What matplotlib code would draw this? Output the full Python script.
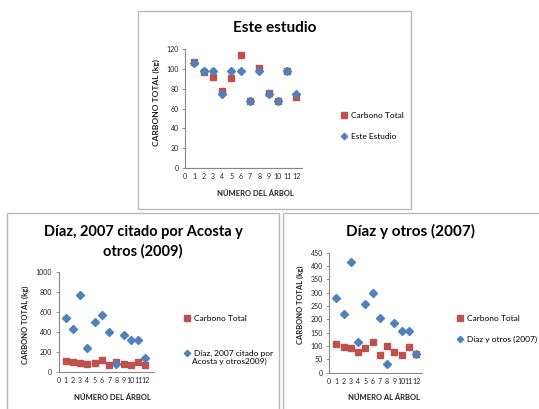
import matplotlib.pyplot as plt
from matplotlib.patches import Rectangle

plt.rcParams['font.family'] = ['Lato', 'DejaVu Sans']

# tree number and carbon values
arbol = [1, 2, 3, 4, 5, 6, 7, 8, 9, 10, 11, 12]
carbono_total = [107, 97, 92, 78, 91, 114, 68, 101, 76, 68, 98, 72]
este_estudio = [106, 98, 98, 75, 98, 98, 68, 98, 75, 68, 98, 75]
diaz_acosta = [533, 427, 767, 233, 500, 567, 393, 73, 367, 317, 317, 140]
diaz_otros = [279, 219, 414, 116, 258, 298, 204, 33, 185, 156, 156, 69]
x_ticks = list(range(13))

RED = '#C0504D'
BLUE = '#4F81BD'
W, H = 539, 409

fig = plt.figure(figsize=(W / 100, H / 100), dpi=100)


def px_axes(left, right, top, bottom):
    return fig.add_axes([left / W, 1 - bottom / H, (right - left) / W, (bottom - top) / H])


def box(x0, y0, x1, y1):
    fig.add_artist(Rectangle((x0 / W, 1 - y1 / H), (x1 - x0) / W, (y1 - y0) / H,
                             transform=fig.transFigure, fill=False,
                             edgecolor='#b8b8b8', lw=1))


def ftext(x, y, s, **kw):
    fig.text(x / W, 1 - y / H, s, **kw)


def style(ax, xmax, ymax, ystep):
    ax.set_xlim(0, xmax)
    ax.set_ylim(0, ymax)
    ax.set_xticks(x_ticks)
    ax.set_xticklabels([str(t) for t in x_ticks], fontsize=5, color='#222222')
    ax.set_yticks(range(0, ymax + 1, ystep))
    ax.tick_params(axis='y', labelsize=5, length=2.5, width=0.6, color='#868686',
                   labelcolor='#222222', pad=2)
    ax.tick_params(axis='x', length=0, pad=3.5)
    ax.set_xticks([0, 5, 10], minor=True)
    ax.tick_params(axis='x', which='minor', length=2.5, width=0.6, color='#868686')
    for s in ['top', 'right']:
        ax.spines[s].set_visible(False)
    for s in ['left', 'bottom']:
        ax.spines[s].set_color('#868686')
        ax.spines[s].set_linewidth(0.8)


def legend(ax, handles, labels, x, y, spacing):
    ax.legend(handles, labels, loc='upper left', bbox_to_anchor=(x / W, 1 - y / H),
              bbox_transform=fig.transFigure, frameon=False, fontsize=6,
              handlelength=0.8, handletextpad=0.4, labelspacing=spacing,
              borderpad=0, borderaxespad=0, markerscale=0.85)


# panel frames
box(138, 11, 411, 209)
box(7, 213, 279, 420)
box(283, 213, 545, 420)

# --- Este estudio ---
ax1 = px_axes(185, 302, 49, 168)
r1, = ax1.plot(arbol, carbono_total, 's', color=RED, ms=5, ls='none')
b1, = ax1.plot(arbol, este_estudio, 'D', color=BLUE, ms=3.8, ls='none')
style(ax1, 12.6, 120, 20)
ftext(275, 28, 'Este estudio', ha='center', va='center', fontsize=11, fontweight='bold')
ftext(156, 103, 'CARBONO TOTAL (kg)', ha='center', va='center', rotation=90,
      fontsize=6, fontweight='bold', color='#222222')
ftext(255, 193, 'NÚMERO DEL ÁRBOL', ha='center', va='center', fontsize=5.5,
      fontweight='bold', color='#222222')
legend(ax1, [r1, b1], ['Carbono Total', 'Este Estudio'], 341, 112, 1.7)

# --- Díaz, 2007 citado por Acosta y otros (2009) ---
ax2 = px_axes(58.5, 154, 271.7, 371.7)
r2, = ax2.plot(arbol, carbono_total, 's', color=RED, ms=5, ls='none')
b2, = ax2.plot(arbol, diaz_acosta, 'D', color=BLUE, ms=3.8, ls='none')
style(ax2, 13.2, 1000, 200)
ftext(143, 241.5, 'Díaz, 2007 citado por Acosta y\notros (2009)', ha='center', va='center',
      fontsize=10.5, fontweight='bold', linespacing=1.45)
ftext(25, 325, 'CARBONO TOTAL (kg)', ha='center', va='center', rotation=90,
      fontsize=5.5, fontweight='bold', color='#222222')
ftext(112, 397.5, 'NÚMERO DEL ÁRBOL', ha='center', va='center', fontsize=5.5,
      fontweight='bold', color='#222222')
legend(ax2, [r2, b2], ['Carbono Total', 'Díaz, 2007 citado por'], 184, 315, 3.3)
ftext(192.5, 361, 'Acosta y otros2009)', ha='left', va='center', fontsize=6)

# --- Díaz y otros (2007) ---
ax3 = px_axes(329, 422, 252.7, 372.7)
r3, = ax3.plot(arbol, carbono_total, 's', color=RED, ms=5, ls='none')
b3, = ax3.plot(arbol, diaz_otros, 'D', color=BLUE, ms=3.8, ls='none')
style(ax3, 12.8, 450, 50)
ftext(411, 231.5, 'Díaz y otros (2007)', ha='center', va='center', fontsize=11,
      fontweight='bold')
ftext(300, 305, 'CARBONO TOTAL (kg)', ha='center', va='center', rotation=90,
      fontsize=5.5, fontweight='bold', color='#222222')
ftext(384, 397.5, 'NÚMERO AL ÁRBOL', ha='center', va='center', fontsize=5.5,
      fontweight='bold', color='#222222')
legend(ax3, [r3, b3], ['Carbono Total', 'Díaz y otros (2007)'], 457, 315, 1.7)

fig.savefig('out.png', dpi=100)
